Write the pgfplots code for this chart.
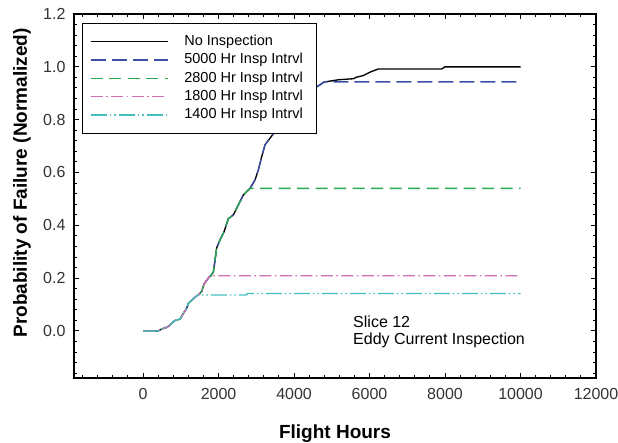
\documentclass[border=0pt]{standalone}
\usepackage{pgfplots}
\pgfplotsset{compat=1.18}
\usepackage{fontspec}
\setmainfont{Liberation Sans}

\definecolor{insp5000}{RGB}{60,80,170}
\definecolor{insp2800}{RGB}{40,170,80}
\definecolor{insp1800}{RGB}{210,110,180}
\definecolor{insp1400}{RGB}{70,190,190}

\begin{document}
\begin{tikzpicture}
\begin{axis}[
  scale only axis,
  width=522pt, height=364pt,
  xmin=-1830, xmax=12000,
  ymin=-0.178, ymax=1.2,
  xtick={0,2000,4000,6000,8000,10000,12000},
  ytick={0,0.2,0.4,0.6,0.8,1.0,1.2},
  minor xtick={-1600,-1200,...,11600},
  minor ytick={-0.16,-0.12,...,1.18},
  scaled x ticks=false,
  tick align=inside,
  major tick length=5pt, minor tick length=3pt,
  axis line style={line width=1.2pt},
  every tick/.style={black, line width=1pt},
  tick label style={font=\fontsize{16}{19}\selectfont, color=black!80},
  /pgf/number format/assume math mode=true,
  xticklabel style={/pgf/number format/1000 sep={}, yshift=-7pt},
  yticklabel style={/pgf/number format/.cd, fixed, fixed zerofill, precision=1, /tikz/.cd, xshift=-5pt},
  xlabel={Flight Hours},
  ylabel={Probability of Failure (Normalized)},
  label style={font=\fontsize{19}{22}\bfseries},
  xlabel style={at={(axis description cs:0.5,-0.165)}, anchor=base},
  ylabel style={at={(axis description cs:-0.0996,0.536)}, anchor=center},
  legend style={at={(axis description cs:0,1)}, anchor=north west,
    xshift=8pt, yshift=-9pt, draw=black, line width=1pt, fill=white,
    font=\fontsize{14.5}{17}\selectfont, row sep=0pt, column sep=10pt,
    inner xsep=7.5pt, inner ysep=9pt,
    nodes={text height=11pt, text depth=3.5pt, inner ysep=1.9pt, inner xsep=6pt}},
  legend cell align=left,
  legend image code/.code={\draw[line width=1.35pt,#1] (0pt,0pt) -- (77pt,0pt);},
  every axis plot/.append style={line width=1.35pt},
]
% No inspection: the full failure curve
\addplot[black] coordinates {
 (0,0) (400,0) (450,0.004) (540,0.010) (630,0.014) (700,0.020) (760,0.030)
 (850,0.040) (980,0.045) (1070,0.067) (1157,0.086) (1200,0.105) (1333,0.122)
 (1420,0.133) (1465,0.136) (1555,0.150) (1615,0.178) (1690,0.193) (1755,0.205)
 (1800,0.209) (1865,0.225) (1907,0.269) (1950,0.315) (2040,0.345) (2146,0.376)
 (2260,0.425) (2393,0.440) (2525,0.477) (2657,0.515) (2750,0.528) (2834,0.540)
 (2967,0.572) (3055,0.610) (3143,0.660) (3232,0.705) (3364,0.730) (3497,0.755)
 (3700,0.800) (4000,0.850) (4300,0.890) (4550,0.920) (4689,0.932) (4800,0.943)
 (4866,0.944) (5175,0.951) (5572,0.955) (5660,0.961) (5837,0.967) (6013,0.980)
 (6234,0.992) (7912,0.992) (8000,1.000) (10000,1.000)};
\addlegendentry{No Inspection}
% 5000 hr interval
\addplot[insp5000, dash pattern=on 15pt off 6pt] coordinates {
 (0,0) (400,0) (450,0.004) (540,0.010) (630,0.014) (700,0.020) (760,0.030)
 (850,0.040) (980,0.045) (1070,0.067) (1157,0.086) (1200,0.105) (1333,0.122)
 (1420,0.133) (1465,0.136) (1555,0.150) (1615,0.178) (1690,0.193) (1755,0.205)
 (1800,0.209) (1865,0.225) (1907,0.269) (1950,0.315) (2040,0.345) (2146,0.376)
 (2260,0.425) (2393,0.440) (2525,0.477) (2657,0.515) (2750,0.528) (2834,0.540)
 (2967,0.572) (3055,0.610) (3143,0.660) (3232,0.705) (3364,0.730) (3497,0.755)
 (3700,0.800) (4000,0.850) (4300,0.890) (4550,0.920) (4689,0.932) (4800,0.943)
 (10000,0.943)};
\addlegendentry{5000 Hr Insp Intrvl}
% 2800 hr interval
\addplot[insp2800, dash pattern=on 12pt off 6.5pt] coordinates {
 (0,0) (400,0) (450,0.004) (540,0.010) (630,0.014) (700,0.020) (760,0.030)
 (850,0.040) (980,0.045) (1070,0.067) (1157,0.086) (1200,0.105) (1333,0.122)
 (1420,0.133) (1465,0.136) (1555,0.150) (1615,0.178) (1690,0.193) (1755,0.205)
 (1800,0.209) (1865,0.225) (1907,0.269) (1950,0.315) (2040,0.345) (2146,0.376)
 (2260,0.425) (2393,0.440) (2525,0.477) (2657,0.515) (2750,0.528) (2834,0.540)
 (10000,0.540)};
\addlegendentry{2800 Hr Insp Intrvl}
% 1800 hr interval
\addplot[insp1800, dash pattern=on 12pt off 3.5pt on 1.5pt off 3.5pt] coordinates {
 (0,0) (400,0) (450,0.004) (540,0.010) (630,0.014) (700,0.020) (760,0.030)
 (850,0.040) (980,0.045) (1070,0.067) (1157,0.086) (1200,0.105) (1333,0.122)
 (1420,0.133) (1465,0.136) (1555,0.150) (1615,0.178) (1690,0.193) (1755,0.205)
 (1800,0.209) (10000,0.209)};
\addlegendentry{1800 Hr Insp Intrvl}
% 1400 hr interval
\addplot[insp1400, dash pattern=on 16pt off 3pt on 1.5pt off 3pt on 1.5pt off 3pt] coordinates {
 (0,0) (400,0) (450,0.004) (540,0.010) (630,0.014) (700,0.020) (760,0.030)
 (850,0.040) (980,0.045) (1070,0.067) (1157,0.086) (1200,0.105) (1333,0.122)
 (1420,0.133) (1465,0.136) (2740,0.136) (2760,0.142) (10000,0.142)};
\addlegendentry{1400 Hr Insp Intrvl}

\node[anchor=base west, inner sep=0pt, font=\fontsize{16}{19}\selectfont]
  at (axis cs:5563,0.015) {Slice 12};
\node[anchor=base west, inner sep=0pt, font=\fontsize{16}{19}\selectfont]
  at (axis cs:5563,-0.053) {Eddy Current Inspection};
\coordinate (SW) at (rel axis cs:0,0);
\end{axis}
\pgfresetboundingbox
\path[use as bounding box] (SW) ++(-74pt,-64pt) rectangle ++(618pt,442pt);
\end{tikzpicture}
\end{document}
